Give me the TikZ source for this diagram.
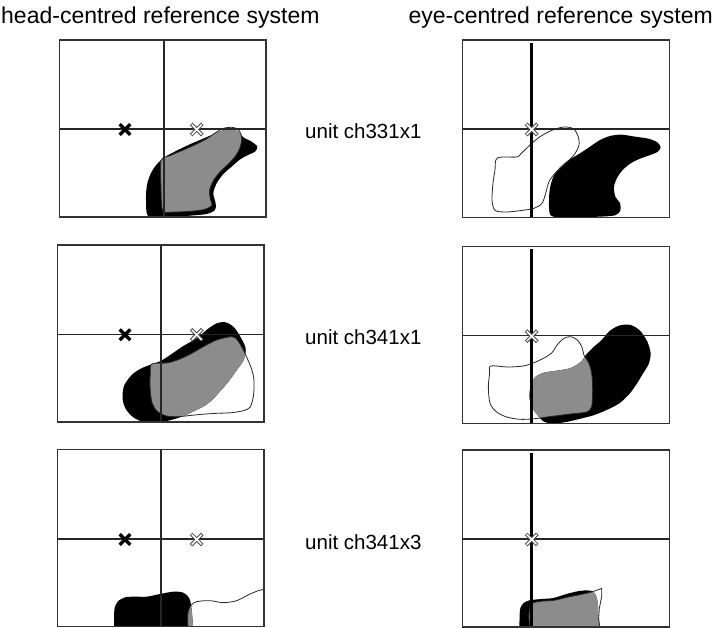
\documentclass[tikz,border=0pt]{standalone}
\usepackage{fontspec}
\setmainfont{Liberation Sans}
\newcommand\panelblobs[2]{%
  \fill[black] #1;
  \begin{scope}\clip #1; \fill[black!45] #2; \end{scope}
  \draw[outl] #2;}
\begin{document}
\begin{tikzpicture}[x=1pt,y=-1pt,
  frame/.style={line width=1.2pt, draw=black!80},
  hair/.style={line width=1.1pt, draw=black!85},
  eyeline/.style={line width=3pt, draw=black},
  outl/.style={line width=0.8pt, draw=black!85},
  lbl/.style={font=\fontsize{20.5}{24}\selectfont, anchor=base west, inner sep=0pt},
  ttl/.style={font=\fontsize{23}{28}\selectfont, inner sep=0pt},
  bx/.pic={\draw[line width=3.3pt] (-5.3,-5.3)--(5.3,5.3) (-5.3,5.3)--(5.3,-5.3);},
  wx/.pic={\draw[line width=3.6pt, black!70] (-5.6,-5.6)--(5.6,5.6) (-5.6,5.6)--(5.6,-5.6);
           \draw[line width=1.5pt, white] (-5,-5)--(5,5) (-5,5)--(5,-5);}
]
\useasboundingbox (0,0) rectangle (720,628);

% titles
\node[ttl, anchor=base west] (t1) at (1,23.3) {head-centred reference system};
\node[ttl, anchor=base east] (t2) at (713,23.3) {eye-centred reference system};

% unit labels
\node[lbl] (l1) at (305,138.7) {unit ch331x1};
\node[lbl] (l2) at (305,344.7) {unit ch341x1};
\node[lbl] (l3) at (305,549.7) {unit ch341x3};

% ---------- panel 1 (head, top)
\begin{scope}
\clip (59.3,40) rectangle (266,217);
\begin{scope}[shift={(50,30)},scale=1/3]
\panelblobs{plot[smooth cycle] coordinates {(292,555) (288,500) (292,460) (305,425) (325,398) (350,378) (380,362) (415,345) (450,330) (485,315) (515,302) (545,298) (565,305) (580,322) (605,335) (622,350) (615,365) (592,376) (568,390) (545,410) (520,432) (500,460) (490,490) (497,520) (495,540) (470,552) (420,557) (370,561) (320,562)}}
{plot[smooth cycle] coordinates {(333,392) (360,377) (400,360) (440,342) (472,325) (500,306) (520,295) (545,292) (562,297) (573,312) (575,332) (568,358) (555,380) (535,402) (510,426) (490,452) (479,480) (481,508) (486,525) (465,538) (420,544) (370,546) (338,541) (333,470)}}
\end{scope}
\end{scope}
\draw[hair] (164,40)--(164,217) (59.3,129)--(266,129);
\draw[frame] (59.3,40) rectangle (266,217);
\pic at (125,129.5) {bx};
\pic at (196.7,129.5) {wx};

% ---------- panel 2 (eye, top)
\begin{scope}
\clip (462.7,40) rectangle (669.3,217.7);
\begin{scope}[shift={(420,30)},scale=1/3]
\panelblobs{plot[smooth cycle] coordinates {(390,553) (388,490) (398,445) (420,412) (450,388) (480,370) (510,350) (540,330) (570,318) (605,314) (645,320) (685,326) (712,337) (722,352) (712,366) (688,376) (660,386) (632,400) (608,420) (592,442) (582,470) (586,500) (600,520) (601,542) (585,556) (540,560) (480,561) (420,561)}}
{plot[smooth cycle] coordinates {(232,384) (290,381) (302,372) (330,345) (360,320) (398,300) (432,291) (460,296) (474,318) (477,345) (462,375) (432,404) (405,430) (387,455) (377,490) (366,520) (342,535) (300,542) (258,546) (225,541) (216,510) (219,460) (225,420)}}
\end{scope}
\end{scope}
\draw[hair] (462.7,129)--(669.3,129);
\draw[eyeline] (531.7,43)--(531.7,217.7);
\draw[frame] (462.7,40) rectangle (669.3,217.7);
\pic at (531.7,129.5) {wx};

% ---------- panel 3 (head, middle)
\begin{scope}
\clip (57.3,245) rectangle (264,422);
\begin{scope}[shift={(50,240)},scale=1/3]
\panelblobs{plot[smooth cycle] coordinates {(218,478) (222,438) (245,405) (272,386) (302,374) (332,363) (362,344) (400,318) (440,295) (472,268) (500,250) (527,247) (552,262) (572,292) (587,325) (582,358) (562,388) (535,425) (505,460) (472,492) (435,512) (395,530) (355,542) (315,548) (280,546) (250,532) (228,508)}}
{plot[smooth cycle] coordinates {(305,372) (350,369) (382,360) (420,343) (460,320) (500,300) (545,290) (562,300) (580,330) (593,358) (603,382) (611,412) (612,445) (609,475) (600,502) (580,512) (545,518) (500,520) (455,523) (415,527) (385,530) (350,528) (322,514) (306,488) (300,440) (301,400)}}
\end{scope}
\end{scope}
\draw[hair] (161,245)--(161,422) (57.3,334.3)--(264,334.3);
\draw[frame] (57.3,245) rectangle (264,422);
\pic at (125,334.8) {bx};
\pic at (196.7,334.8) {wx};

% ---------- panel 4 (eye, middle)
\begin{scope}
\clip (462.7,246.7) rectangle (669.3,423.7);
\begin{scope}[shift={(420,240)},scale=1/3]
\panelblobs{plot[smooth cycle] coordinates {(545,300) (570,272) (600,256) (632,255) (660,272) (682,305) (692,340) (686,372) (668,402) (650,432) (628,462) (598,490) (560,510) (520,526) (478,537) (438,546) (398,551) (372,545) (352,525) (336,500) (328,470) (332,440) (345,412) (372,398) (412,392) (452,384) (482,366) (500,342) (522,320)}}
{plot[smooth cycle] coordinates {(212,378) (262,381) (310,378) (342,368) (372,354) (396,338) (412,314) (432,295) (452,290) (472,300) (486,322) (492,346) (506,368) (515,400) (518,450) (515,500) (500,516) (460,521) (420,526) (380,531) (345,536) (300,538) (260,531) (230,516) (210,490) (205,440) (209,400)}}
\end{scope}
\end{scope}
\draw[hair] (462.7,335.7)--(669.3,335.7);
\draw[eyeline] (531.7,249)--(531.7,423.7);
\draw[frame] (462.7,246.7) rectangle (669.3,423.7);
\pic at (531.7,336.2) {wx};

% ---------- panel 5 (head, bottom)
\begin{scope}
\clip (57.3,449.3) rectangle (264,626.7);
\begin{scope}[shift={(50,440)},scale=1/3]
\panelblobs{plot[smooth] coordinates {(193,575) (193,510) (203,485) (225,472) (255,470) (290,470) (330,462) (370,455) (400,458) (418,475) (425,510) (430,575)} -- cycle}
{plot[smooth] coordinates {(415,580) (413,525) (422,497) (440,485) (480,482) (520,488) (560,482) (598,463) (625,452) (642,448)} -- (645,580) -- cycle}
\end{scope}
\end{scope}
\draw[hair] (161,449.3)--(161,626.7) (57.3,539)--(264,539);
\draw[frame] (57.3,449.3) rectangle (264,626.7);
\pic at (125,539.5) {bx};
\pic at (196.7,539.5) {wx};

% ---------- panel 6 (eye, bottom)
\begin{scope}
\clip (462.7,450) rectangle (669.3,627);
\begin{scope}[shift={(420,440)},scale=1/3]
\panelblobs{plot[smooth] coordinates {(298,575) (300,510) (310,490) (328,481) (365,477) (400,474) (440,462) (472,454) (500,451) (520,455) (530,472) (534,500) (535,530) (540,575)} -- cycle}
{plot[smooth] coordinates {(330,580) (327,525) (334,492) (362,484) (402,481) (440,472) (480,464) (515,456) (545,445)} -- (545,470) -- (538,505) -- (536,535) -- (542,580) -- cycle}
\end{scope}
\end{scope}
\draw[hair] (462.7,539)--(669.3,539);
\draw[eyeline] (531.7,452.7)--(531.7,627);
\draw[frame] (462.7,450) rectangle (669.3,627);
\pic at (531.7,539.5) {wx};
\end{tikzpicture}
\end{document}
